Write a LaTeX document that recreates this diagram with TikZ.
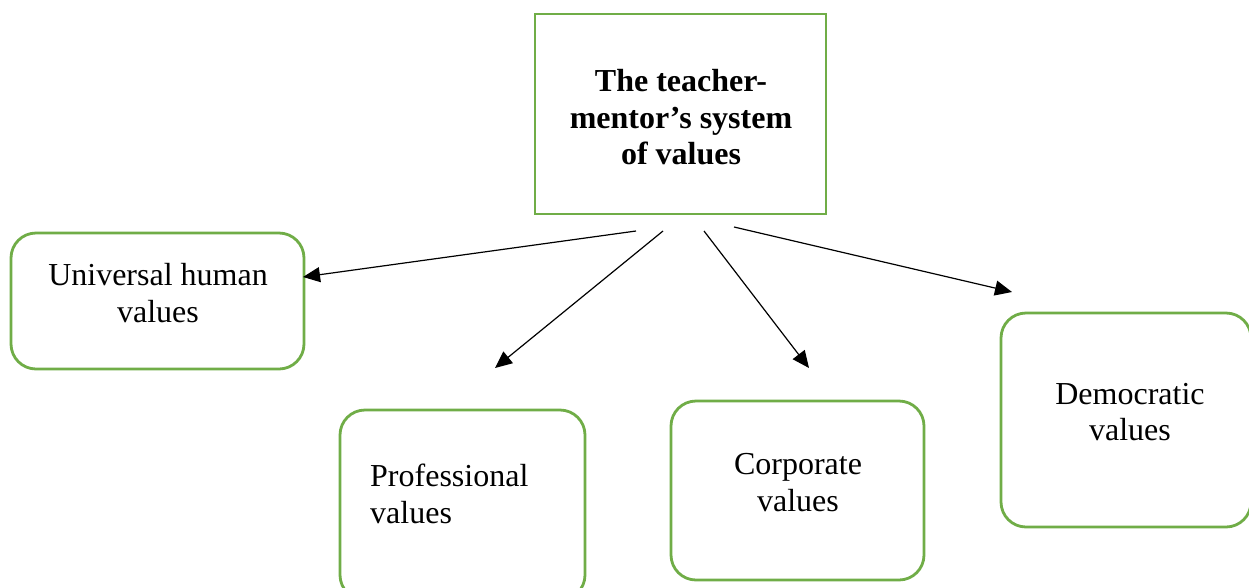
\documentclass[tikz,border=0pt]{standalone}
\usepackage{fontspec}
\setmainfont{Liberation Serif}
\usetikzlibrary{arrows.meta}
\definecolor{boxgreen}{HTML}{70AD47}
\begin{document}
\begin{tikzpicture}[x=1pt,y=-1pt,
  topbox/.style={draw=boxgreen,line width=2.8pt,minimum width=291pt,minimum height=200pt,inner sep=0pt},
  valbox/.style={draw=boxgreen,line width=2.8pt,rounded corners=25pt,inner sep=0pt},
  lbl/.style={inner sep=0pt,font=\fontsize{32}{36.5}\selectfont},
  conn/.style={line width=1.2pt,-{Triangle[length=17pt,width=15pt]}}]
\useasboundingbox (0,0) rectangle (1249,587);
\clip (0,0) rectangle (1249,587);
\fill[white] (0,0) rectangle (1249,587);
% boxes
\node[topbox] (top) at (680.5,114) {};
\node[valbox,minimum width=293pt,minimum height=136pt] (uni) at (157.5,301) {};
\node[valbox,minimum width=245pt,minimum height=190pt] (pro) at (462.5,505) {};
\node[valbox,minimum width=253pt,minimum height=179pt] (cor) at (797.5,490.5) {};
\node[valbox,minimum width=250pt,minimum height=214pt] (dem) at (1126,420) {};
% texts
\node[lbl,align=center,font=\fontsize{32}{36.5}\selectfont\bfseries] (toptxt) at (681,117.5) {The teacher-\\mentor’s system\\of values};
\node[lbl,align=center] (unitxt) at (158,293) {Universal human\\values};
\node[lbl,align=left,anchor=west] (protxt) at (370,494) {Professional\\values};
\node[lbl,align=center] (cortxt) at (798,482.5) {Corporate\\values};
\node[lbl,align=center] (demtxt) at (1130,412) {Democratic\\values};
% connector ends
\coordinate (s1) at (636,231);
\coordinate (t1) at (303,277);
\coordinate (s2) at (663,231);
\coordinate (t2) at (495,368);
\coordinate (s3) at (704,231);
\coordinate (t3) at (809,368);
\coordinate (s4) at (734,227);
\coordinate (t4) at (1012,292);
\draw[conn] (s1) -- (t1);
\draw[conn] (s2) -- (t2);
\draw[conn] (s3) -- (t3);
\draw[conn] (s4) -- (t4);
\end{tikzpicture}
\end{document}
